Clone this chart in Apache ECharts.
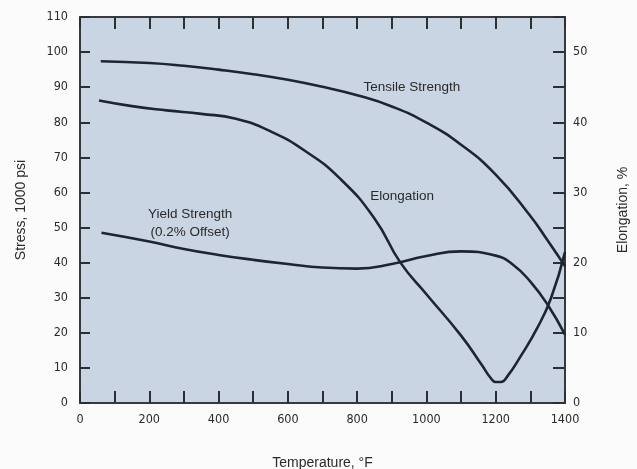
<!DOCTYPE html>
<html>
<head>
<meta charset="utf-8">
<script src="https://cdn.jsdelivr.net/npm/echarts@6/dist/echarts.min.js"></script>
<style>
  html, body { margin: 0; padding: 0; background: #fbfbfb; }
  #chart { width: 637px; height: 469px; }
</style>
</head>
<body>
<div id="chart"></div>
<script>
// Temperature (°F) sample points and the property read at each
const tensileTemp     = [60, 200, 300, 400, 500, 600, 700, 800, 900, 1000, 1100, 1200, 1300, 1350, 1400];
const tensileStrength = [97.4, 96.9, 96.1, 95.0, 93.7, 92.1, 90.1, 87.7, 84.5, 79.9, 73.6, 65.1, 53.3, 46.3, 39.0];

const yieldTemp     = [62, 200, 300, 400, 500, 600, 700, 800, 900, 1000, 1100, 1200, 1250, 1300, 1350, 1400];
const yieldStrength = [48.5, 46.0, 43.9, 42.2, 40.8, 39.6, 38.6, 38.3, 39.6, 41.9, 43.2, 42.0, 39.4, 34.6, 28.0, 19.5];

const elongTemp  = [55, 150, 250, 350, 450, 550, 650, 750, 850, 925, 1000, 1100, 1160, 1185, 1200, 1215, 1235, 1270, 1320, 1360, 1400];
const elongation = [43.1, 42.3, 41.7, 41.2, 40.5, 38.7, 35.9, 32.0, 26.3, 20.0, 15.5, 9.6, 5.4, 3.6, 3.0, 3.0, 3.9, 6.5, 10.7, 15.0, 21.5];

// Axis ranges and tick steps
const tempTicks   = { min: 0, max: 1400, step: 100, labelStep: 200 };
const stressTicks = { min: 0, max: 110, step: 10 };
const elongTicks  = { min: 0, max: 55, step: 5, labelStep: 10 };

const pairs = (xs, ys) => xs.map((x, i) => [x, ys[i]]);

const ink = '#1d2530';
const frame = '#2b2f33';
const textColor = '#2a2a2a';
const tickFont = { fontFamily: '"Liberation Sans Narrow", "DejaVu Sans Condensed", sans-serif', fontSize: 12.5, color: textColor };
const nameFont = { fontFamily: '"Liberation Sans", Arial, sans-serif', fontSize: 14, color: textColor };

const axisLine = { show: true, onZero: false, lineStyle: { color: frame, width: 1.5 } };
const tick = len => ({ show: true, inside: true, length: len, lineStyle: { color: frame, width: 2 } });

const chart = echarts.init(document.getElementById('chart'), null, { renderer: 'canvas' });

const lineStyle = { color: ink, width: 2.6 };
const curve = (name, yAxisIndex, data) => ({
  name,
  type: 'line',
  xAxisIndex: 0,
  yAxisIndex,
  data,
  smooth: 0.5,
  showSymbol: false,
  lineStyle
});

chart.setOption({
  backgroundColor: '#fbfbfb',
  animation: false,
  grid: {
    left: 80, right: 72, top: 17, bottom: 66,
    outerBoundsMode: 'none',
    show: true,
    backgroundColor: '#c9d5e2',
    borderColor: frame,
    borderWidth: 1.5
  },
  xAxis: [
    {
      type: 'value',
      position: 'bottom',
      min: tempTicks.min, max: tempTicks.max, interval: tempTicks.step,
      name: 'Temperature, °F',
      nameLocation: 'middle',
      nameGap: 53,
      nameTextStyle: nameFont,
      axisLine,
      axisTick: tick(12),
      axisLabel: {
        ...tickFont,
        margin: 10,
        formatter: v => (v % tempTicks.labelStep === 0 ? String(v) : '')
      },
      splitLine: { show: false }
    },
    {
      type: 'value',
      position: 'top',
      min: tempTicks.min, max: tempTicks.max, interval: tempTicks.step,
      axisLine,
      axisTick: tick(12),
      axisLabel: { show: false },
      splitLine: { show: false }
    }
  ],
  yAxis: [
    {
      type: 'value',
      position: 'left',
      min: stressTicks.min, max: stressTicks.max, interval: stressTicks.step,
      name: 'Stress, 1000 psi',
      nameLocation: 'middle',
      nameGap: 52,
      nameRotate: 90,
      nameTextStyle: nameFont,
      axisLine,
      axisTick: tick(10),
      axisLabel: { ...tickFont, margin: 12 },
      splitLine: { show: false }
    },
    {
      type: 'value',
      position: 'right',
      min: elongTicks.min, max: elongTicks.max, interval: elongTicks.step,
      name: 'Elongation, %',
      nameLocation: 'middle',
      nameGap: 51,
      nameRotate: 90,
      nameTextStyle: nameFont,
      axisLine,
      axisTick: tick(12),
      axisLabel: {
        ...tickFont,
        margin: 8,
        formatter: v => (v % elongTicks.labelStep === 0 ? String(v) : '')
      },
      splitLine: { show: false }
    }
  ],
  series: [
    curve('Tensile Strength', 0, pairs(tensileTemp, tensileStrength)),
    curve('Yield Strength (0.2% Offset)', 0, pairs(yieldTemp, yieldStrength)),
    curve('Elongation', 1, pairs(elongTemp, elongation))
  ]
});

// Curve captions, placed in data space
const captions = [
  { text: 'Tensile Strength', at: [958, 90.1] },
  { text: 'Elongation', at: [930, 58.8] },
  { text: 'Yield Strength\n(0.2% Offset)', at: [318, 51.3] }
];

chart.setOption({
  graphic: captions.map(c => {
    const p = chart.convertToPixel({ xAxisIndex: 0, yAxisIndex: 0 }, c.at);
    return {
      type: 'text',
      x: p[0], y: p[1],
      style: {
        text: c.text,
        fill: textColor,
        font: '13.5px "Liberation Sans", Arial, sans-serif',
        align: 'center',
        verticalAlign: 'middle',
        lineHeight: 18
      }
    };
  })
});
</script>
</body>
</html>
